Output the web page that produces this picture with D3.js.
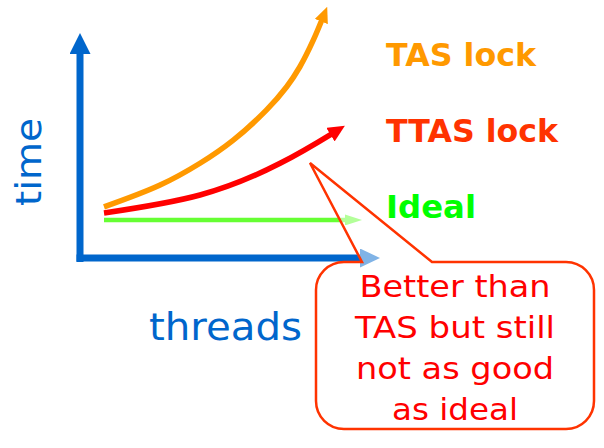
<!DOCTYPE html>
<html>
<head>
<meta charset="utf-8">
<script src="https://cdn.jsdelivr.net/npm/d3@7"></script>
<style>
  html, body { margin: 0; padding: 0; background: #fff; }
  svg { display: block; }
</style>
</head>
<body>
<svg id="chart" width="604" height="448"></svg>
<script>
// ---- data (conceptual curves: time vs threads) ----
const seriesNames = ["TAS lock", "TTAS lock", "Ideal"];
const tasThreads  = [0.8, 2.67, 4.0, 5.11, 6.22, 6.89, 7.33, 7.78, 8.24];
const tasTime     = [2.27, 3.24, 4.21, 5.24, 6.58, 7.61, 8.5, 9.69, 11.17];
const ttasThreads = [0.8, 4.0, 6.67, 8.83];
const ttasTime    = [2.0, 2.8, 4.21, 5.88];
const idealThreads = [0.8, 9.4];
const idealTime    = [1.69, 1.69];
const axisTitles = { x: "threads", y: "time" };
const calloutLines = ["Better than", "TAS but still", "not as good", "as ideal"];

// ---- setup ----
const svg = d3.select("#chart");
svg.append("rect").attr("width", 604).attr("height", 448).attr("fill", "#fff");
const defs = svg.append("defs");

const x = d3.scaleLinear().domain([0, 10]).range([80, 380]);
const y = d3.scaleLinear().domain([0, 10]).range([258, 33]);

let markerId = 0;
function arrowMarker(color, len, wid) {
  const id = "m" + (markerId++);
  defs.append("marker")
    .attr("id", id)
    .attr("markerUnits", "userSpaceOnUse")
    .attr("viewBox", `${-len} ${-wid / 2} ${len} ${wid}`)
    .attr("markerWidth", len).attr("markerHeight", wid)
    .attr("refX", 0).attr("refY", 0)
    .attr("orient", "auto")
    .append("path")
    .attr("d", `M0,0L${-len},${-wid / 2}L${-len},${wid / 2}Z`)
    .attr("fill", color);
  return id;
}

function arrowPath(g, d, color, width, len, wid) {
  const id = arrowMarker(color, len, wid);
  const p = g.append("path")
    .attr("d", d)
    .attr("fill", "none")
    .attr("stroke", color)
    .attr("stroke-width", width)
    .attr("marker-end", `url(#${id})`);
  const total = p.node().getTotalLength();
  p.attr("stroke-dasharray", `${total - len + 1} ${total + 10}`);
  return p;
}

const g = svg.append("g");

// ---- axes (no ticks) ----
const blue = "#0066cc";
arrowPath(g, `M${x(0)},${y(0) + 4}L${x(0)},${y(10)}`, blue, 7, 21, 21);
arrowPath(g, `M${x(0) - 3.5},${y(0)}L${x(10)},${y(0)}`, blue, 7, 20, 19);

// ---- series ----
const lineTas = d3.line()
  .x(d => x(d[0])).y(d => y(d[1]))
  .curve(d3.curveCatmullRom.alpha(0.5));
const lineTtas = d3.line()
  .x(d => x(d[0])).y(d => y(d[1]))
  .curve(d3.curveNatural);

const tasData = d3.zip(tasThreads, tasTime);
const ttasData = d3.zip(ttasThreads, ttasTime);
const idealData = d3.zip(idealThreads, idealTime);

arrowPath(g, lineTtas(idealData), "#66ff33", 4.5, 17, 11);
arrowPath(g, lineTas(tasData), "#ff9900", 5.5, 16, 14);
arrowPath(g, lineTtas(ttasData), "#ff0000", 5.5, 17, 16);

// ---- labels ----
const labelColors = ["#ff9900", "#ff3300", "#00ff00"];
const labelBaselines = [65.5, 141.5, 218];
const labelWidths = [150, 172, 90];
seriesNames.forEach((name, i) => {
  svg.append("text")
    .attr("x", 386).attr("y", labelBaselines[i])
    .attr("font-family", "Verdana, 'DejaVu Sans', sans-serif")
    .attr("font-weight", "bold")
    .attr("font-size", 31.5)
    .attr("fill", labelColors[i])
    .attr("textLength", labelWidths[i])
    .attr("lengthAdjust", "spacingAndGlyphs")
    .text(name);
});

// axis titles
svg.append("text")
  .attr("transform", "translate(40.7,206) rotate(-90)")
  .attr("font-family", "Verdana, 'DejaVu Sans', sans-serif")
  .attr("font-size", 36)
  .attr("fill", blue)
  .attr("textLength", 88)
  .attr("lengthAdjust", "spacingAndGlyphs")
  .text(axisTitles.y);

svg.append("text")
  .attr("x", 149).attr("y", 340)
  .attr("font-family", "Verdana, 'DejaVu Sans', sans-serif")
  .attr("font-size", 37)
  .attr("fill", blue)
  .attr("textLength", 153)
  .attr("lengthAdjust", "spacingAndGlyphs")
  .text(axisTitles.x);

// ---- callout ----
const T = [310, 163], L = 316, R = 594, Tp = 262, B = 429, r = 28, p1 = 362, p2 = 432;
const cd = `M${p1},${Tp}L${T[0]},${T[1]}L${p2},${Tp}H${R - r}` +
  `A${r},${r} 0 0 1 ${R},${Tp + r}V${B - r}` +
  `A${r},${r} 0 0 1 ${R - r},${B}H${L + r}` +
  `A${r},${r} 0 0 1 ${L},${B - r}V${Tp + r}` +
  `A${r},${r} 0 0 1 ${L + r},${Tp}Z`;
svg.append("path")
  .attr("d", cd)
  .attr("fill", "#fff").attr("fill-opacity", 0.5)
  .attr("stroke", "#ff3300").attr("stroke-width", 2.5)
  .attr("stroke-linejoin", "miter");

const cBase = [296.7, 338.3, 379.3, 420];
const cWidths = [191, 200, 198, 126];
calloutLines.forEach((t, i) => {
  svg.append("text")
    .attr("x", 455).attr("y", cBase[i])
    .attr("text-anchor", "middle")
    .attr("font-family", "Verdana, 'DejaVu Sans', sans-serif")
    .attr("font-size", 29.5)
    .attr("fill", "#ff0000")
    .attr("textLength", cWidths[i])
    .attr("lengthAdjust", "spacingAndGlyphs")
    .text(t);
});
</script>
</body>
</html>
